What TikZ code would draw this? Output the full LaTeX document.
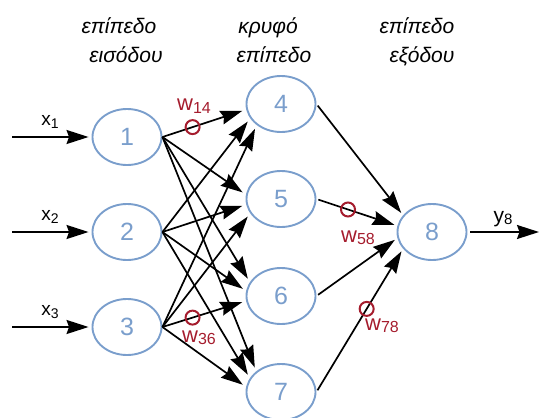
\documentclass[tikz,border=0pt]{standalone}
\usepackage{fontspec}
\setmainfont{Liberation Sans}
\usetikzlibrary{arrows.meta,shapes.geometric}
\definecolor{nodeblue}{RGB}{122,158,204}
\definecolor{wred}{RGB}{165,28,45}
\newcommand{\lab}[4]{{\fontsize{#3}{#3}\selectfont #1}\raisebox{-0.45ex}{\fontsize{#4}{#4}\selectfont #2}}
\begin{document}
\begin{tikzpicture}[x=1pt,y=-1pt,
  neuron/.style={draw=nodeblue,line width=1.9pt,ellipse,minimum width=69pt,minimum height=56pt,inner sep=0pt,
     text=nodeblue,font=\fontsize{25}{25}\selectfont},
  arr/.style={line width=1.7pt,-{Stealth[length=22pt,width=14pt,inset=2.5pt]}},
  wcirc/.style={circle,draw=wred,line width=2pt,minimum size=14pt,inner sep=0pt},
  wtext/.style={text=wred,inner sep=0pt},
  head/.style={font=\fontsize{21}{21}\selectfont\itshape,inner sep=0pt,anchor=base}]
\useasboundingbox (0,0) rectangle (539,418);
% headers
\node[head] (h1a) at (119,33) {επίπεδο};
\node[head] (h1b) at (126,62) {εισόδου};
\node[head] (h2a) at (268,33) {κρυφό};
\node[head] (h2b) at (274,62) {επίπεδο};
\node[head] (h3a) at (417,33) {επίπεδο};
\node[head] (h3b) at (422,62) {εξόδου};
% neurons
\node[neuron] (n1) at (127,137) {1};
\node[neuron] (n2) at (127,232) {2};
\node[neuron] (n3) at (127,327) {3};
\node[neuron] (n4) at (281,104) {4};
\node[neuron] (n5) at (281,199) {5};
\node[neuron] (n6) at (281,296) {6};
\node[neuron] (n7) at (281,392) {7};
\node[neuron] (n8) at (432,232) {8};
% inputs
\coordinate (i1) at (12,137);
\coordinate (i2) at (12,232);
\coordinate (i3) at (12,327);
\draw[arr,shorten >=3pt] (i1) -- (n1.west);
\draw[arr,shorten >=3pt] (i2) -- (n2.west);
\draw[arr,shorten >=3pt] (i3) -- (n3.west);
\node[inner sep=0pt] (x1) at (50,122) {\lab{x}{1}{19}{14}};
\node[inner sep=0pt] (x2) at (50,217) {\lab{x}{2}{19}{14}};
\node[inner sep=0pt] (x3) at (50,312) {\lab{x}{3}{19}{14}};
% input -> hidden
\draw[arr,shorten >=4pt] (n1.east) -- (n4.189);
\draw[arr,shorten >=4pt] (n1.east) -- (n5.173);
\draw[arr,shorten >=4pt] (n1.east) -- (n6.156);
\draw[arr,shorten >=4pt] (n1.east) -- (n7.140);
\draw[arr,shorten >=4pt] (n2.east) -- (n4.205);
\draw[arr,shorten >=4pt] (n2.east) -- (n5.189);
\draw[arr,shorten >=4pt] (n2.east) -- (n6.172);
\draw[arr,shorten >=4pt] (n2.east) -- (n7.156);
\draw[arr,shorten >=4pt] (n3.east) -- (n4.221);
\draw[arr,shorten >=4pt] (n3.east) -- (n5.205);
\draw[arr,shorten >=4pt] (n3.east) -- (n6.188);
\draw[arr,shorten >=4pt] (n3.east) -- (n7.172);
% hidden -> output
\draw[arr,shorten >=3pt,shorten <=2pt] (n4.east) -- (n8.150);
\draw[arr,shorten >=3pt,shorten <=2pt] (n5.east) -- (n8.170);
\draw[arr,shorten >=3pt,shorten <=2pt] (n6.east) -- (n8.190);
\draw[arr,shorten >=3pt,shorten <=2pt] (n7.east) -- (n8.210);
% output
\coordinate (o8) at (539,232);
\draw[arr,shorten <=3pt] (n8.east) -- (o8);
\node[inner sep=0pt] (y8) at (503,219) {\lab{y}{8}{21}{15}};
% weights
\path (n1.east) -- (n4.189) node[wcirc,pos=0.36] (c14) {};
\path (n3.east) -- (n6.188) node[wcirc,pos=0.36] (c36) {};
\path (n5.east) -- (n8.170) node[wcirc,pos=0.39] (c58) {};
\path (n7.east) -- (n8.210) node[wcirc,pos=0.58] (c78) {};
\node[wtext] (w14) at (194,106) {\lab{w}{14}{22}{16}};
\node[wtext] (w36) at (199,338) {\lab{w}{36}{22}{16}};
\node[wtext] (w58) at (358,238) {\lab{w}{58}{22}{16}};
\node[wtext] (w78) at (382,326) {\lab{w}{78}{22}{16}};
\end{tikzpicture}
\end{document}
